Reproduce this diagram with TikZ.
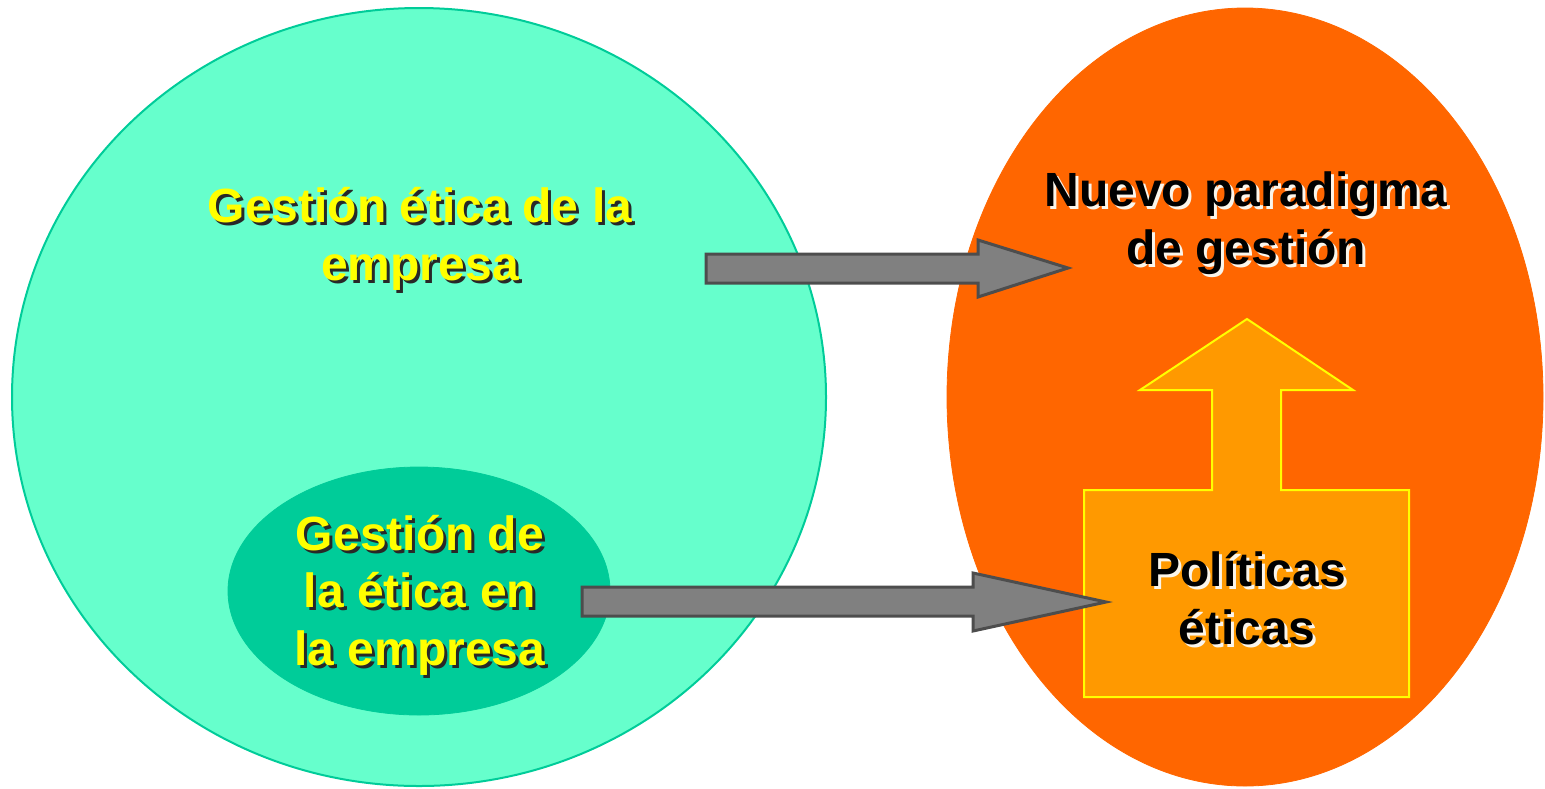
\documentclass[tikz,border=0pt]{standalone}
\usepackage{fontspec}
\setmainfont{Liberation Sans}
\begin{document}
\begin{tikzpicture}[x=0.5pt,y=0.5pt,yscale=-1,xscale=1,
  lbl/.style={align=center,inner sep=0pt,font=\bfseries\fontsize{24}{28.8}\selectfont},
  yellowlbl/.style={lbl,text={rgb,255:red,255;green,255;blue,0}},
  blacklbl/.style={lbl,text=black},
  darkshadow/.style={lbl,text={rgb,255:red,40;green,40;blue,40}},
  lightshadow/.style={lbl,text={rgb,255:red,250;green,245;blue,235}},
  greyarrow/.style={draw={rgb,255:red,77;green,77;blue,77},line width=1.5pt,fill={rgb,255:red,128;green,128;blue,128}}]
\useasboundingbox (0,0) rectangle (1545,788);

%Shape: Ellipse [id:big]
\draw [draw={rgb,255:red,0;green,204;blue,153},line width=1pt,fill={rgb,255:red,102;green,255;blue,204}] (419,397) ellipse (407 and 389);
%Shape: Ellipse [id:right]
\draw [draw={rgb,255:red,255;green,102;blue,0},fill={rgb,255:red,255;green,102;blue,0}] (1245,397) ellipse (298 and 389);
%Shape: Ellipse [id:small]
\draw [draw={rgb,255:red,0;green,204;blue,153},fill={rgb,255:red,0;green,204;blue,153}] (419,591) ellipse (191 and 124);

%Shape: Right Arrow [id:top]
\draw [greyarrow] (706,254) -- (978,254) -- (978,240) -- (1068,268) -- (978,297) -- (978,283) -- (706,283) -- cycle ;
%Shape: Up Arrow Callout [id:box]
\draw [draw={rgb,255:red,255;green,255;blue,0},line width=1pt,fill={rgb,255:red,255;green,153;blue,0}] (1084,697) -- (1084,490) -- (1212,490) -- (1212,390) -- (1140,390) -- (1247,319) -- (1353,390) -- (1281,390) -- (1281,490) -- (1409,490) -- (1409,697) -- cycle ;
%Shape: Right Arrow [id:bottom]
\draw [greyarrow] (582,587) -- (973,587) -- (973,573) -- (1106,602) -- (973,631) -- (973,616) -- (582,616) -- cycle ;

% Text Node
\node [darkshadow] (gesetsh) at (423,242) {Gestión ética de la\\empresa};
\node [yellowlbl] (geset) at (420,239) {Gestión ética de la\\empresa};
% Text Node
\node [darkshadow] (gdeesh) at (423,598) {Gestión de\\la ética en\\la empresa};
\node [yellowlbl] (gdee) at (420,595) {Gestión de\\la ética en\\la empresa};
% Text Node
\node [lightshadow] (nuevosh) at (1249,226) {Nuevo paradigma\\de gestión};
\node [blacklbl] (nuevo) at (1246,223) {Nuevo paradigma\\de gestión};
% Text Node
\node [lightshadow] (polsh) at (1250,601) {Políticas\\éticas};
\node [blacklbl] (pol) at (1247,598) {Políticas\\éticas};

\end{tikzpicture}
\end{document}
